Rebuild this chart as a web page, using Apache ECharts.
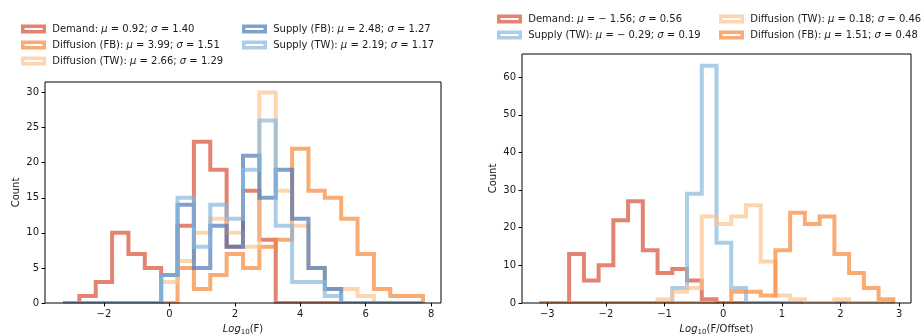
<!DOCTYPE html>
<html>
<head>
<meta charset="utf-8">
<script src="https://cdn.jsdelivr.net/npm/echarts@6/dist/echarts.min.js"></script>
<style>
  html, body { margin: 0; padding: 0; background: #fff; }
  #chart { width: 921px; height: 336px; }
</style>
</head>
<body>
<div id="chart"></div>
<script>
// ---- Left panel: histograms of log10(F) ----
const fBinEdges = [-3.25, -2.75, -2.25, -1.75, -1.25, -0.75, -0.25, 0.25, 0.75, 1.25, 1.75,
                   2.25, 2.75, 3.25, 3.75, 4.25, 4.75, 5.25, 5.75, 6.25, 6.75, 7.25, 7.75];
const fLabels = ['Demand', 'Diffusion (FB)', 'Diffusion (TW)', 'Supply (FB)', 'Supply (TW)'];
const fMeans  = [0.92, 3.99, 2.66, 2.48, 2.19];
const fStds   = [1.40, 1.51, 1.29, 1.27, 1.17];
const fDemand        = [0, 1, 3, 10, 7, 5, 4, 11, 23, 19, 8, 16, 9, 0, 0, 0, 0, 0, 0, 0, 0, 0];
const fDiffusionFB   = [0, 0, 0, 0, 0, 0, 0, 5, 2, 4, 7, 5, 8, 9, 22, 16, 15, 12, 7, 2, 1, 1];
const fDiffusionTW   = [0, 0, 0, 0, 0, 0, 3, 6, 10, 12, 10, 8, 30, 16, 11, 5, 2, 2, 1, 0, 0, 0];
const fSupplyFB      = [0, 0, 0, 0, 0, 0, 4, 14, 5, 11, 8, 21, 15, 19, 12, 5, 2, 0, 0, 0, 0, 0];
const fSupplyTW      = [0, 0, 0, 0, 0, 0, 4, 15, 8, 14, 12, 19, 26, 11, 3, 3, 1, 0, 0, 0, 0, 0];
const fXTicks = [-2, 0, 2, 4, 6, 8];
const fYTicks = [0, 5, 10, 15, 20, 25, 30];

// ---- Right panel: histograms of log10(F/Offset) ----
const oBinEdges = [-3.130, -2.879, -2.628, -2.376, -2.125, -1.874, -1.623, -1.371, -1.120,
                   -0.869, -0.618, -0.366, -0.115, 0.136, 0.388, 0.639, 0.890, 1.141, 1.393,
                   1.644, 1.895, 2.146, 2.398, 2.649, 2.900];
const oLabels = ['Demand', 'Supply (TW)', 'Diffusion (TW)', 'Diffusion (FB)'];
const oMeans  = [-1.56, -0.29, 0.18, 1.51];
const oStds   = [0.56, 0.19, 0.46, 0.48];
const oDemand      = [0, 0, 13, 6, 10, 22, 27, 14, 8, 9, 6, 1, 0, 0, 0, 0, 0, 0, 0, 0, 0, 0, 0, 0];
const oSupplyTW    = [0, 0, 0, 0, 0, 0, 0, 0, 0, 4, 29, 63, 16, 4, 0, 0, 0, 0, 0, 0, 0, 0, 0, 0];
const oDiffusionTW = [0, 0, 0, 0, 0, 0, 0, 0, 1, 3, 4, 23, 21, 23, 26, 11, 2, 1, 0, 0, 1, 0, 0, 0];
const oDiffusionFB = [0, 0, 0, 0, 0, 0, 0, 0, 0, 0, 0, 0, 0, 3, 3, 2, 14, 24, 21, 23, 13, 8, 4, 1];
const oXTicks = [-3, -2, -1, 0, 1, 2, 3];
const oYTicks = [0, 10, 20, 30, 40, 50, 60];

// ---- Styling ----
const COLORS = {
  'Demand':         'rgba(214,80,52,0.7)',
  'Diffusion (FB)': 'rgba(248,136,55,0.7)',
  'Diffusion (TW)': 'rgba(252,196,141,0.7)',
  'Supply (FB)':    'rgba(74,119,184,0.7)',
  'Supply (TW)':    'rgba(134,184,222,0.7)'
};
const FONT = 'DejaVu Sans';
const TEXT = '#1a1a1a';

const fmtNum = v => (v < 0 ? '\u2212 ' + Math.abs(v).toFixed(2) : v.toFixed(2));
const legendName = (lab, m, s) => lab + ': \u03bc = ' + fmtNum(m) + '; \u03c3 = ' + fmtNum(s);
const fmtTick = v => String(v).replace('-', '\u2212');

// Outline of a step histogram: baseline at the first edge, flat tops per bin, back down at the last edge.
function stepOutline(edges, counts) {
  const pts = [[edges[0], 0]];
  for (let i = 0; i < counts.length; i++) {
    pts.push([edges[i], counts[i]]);
    pts.push([edges[i + 1], counts[i]]);
  }
  pts.push([edges[edges.length - 1], 0]);
  return pts;
}

function histSeries(name, colorKey, edges, counts, axisIdx, z) {
  return {
    type: 'line',
    name: name,
    xAxisIndex: axisIdx,
    yAxisIndex: axisIdx,
    data: stepOutline(edges, counts),
    symbol: 'none',
    showSymbol: false,
    silent: true,
    animation: false,
    z: z,
    color: COLORS[colorKey],
    lineStyle: { width: 4, color: COLORS[colorKey], join: 'miter', cap: 'butt' }
  };
}

const fCounts = [fDemand, fDiffusionFB, fDiffusionTW, fSupplyFB, fSupplyTW];
const oCounts = [oDemand, oSupplyTW, oDiffusionTW, oDiffusionFB];
const fNames = fLabels.map((l, i) => legendName(l, fMeans[i], fStds[i]));
const oNames = oLabels.map((l, i) => legendName(l, oMeans[i], oStds[i]));

const series = [];
fLabels.forEach((l, i) => series.push(histSeries(fNames[i], l, fBinEdges, fCounts[i], 0, 2 + i)));
oLabels.forEach((l, i) => series.push(histSeries(oNames[i], l, oBinEdges, oCounts[i], 1, 2 + i)));

const legendRich = {
  it: { fontStyle: 'italic', fontFamily: FONT, fontSize: 10, color: TEXT },
  g: { width: 3 }
};
// Legend entries: outlined boxes in the series colour, as for step histograms.
function legendBlock(names, keys, left, top) {
  return {
    data: names.map((n, i) => ({
      name: n,
      icon: 'rect',
      itemStyle: { color: '#ffffff', borderColor: COLORS[keys[i]], borderWidth: 3.5 }
    })),
    orient: 'vertical',
    left: left,
    top: top,
    padding: 0,
    itemGap: 4,
    itemWidth: 21.5,
    itemHeight: 5.5,
    selectedMode: false,
    textStyle: { fontFamily: FONT, fontSize: 10, color: TEXT, lineHeight: 12, rich: legendRich },
    formatter: n => '{g|}' + n.replace('\u03bc', '{it|\u03bc}').replace('\u03c3', '{it|\u03c3}')
  };
}

const axisLabelStyle = { fontFamily: FONT, fontSize: 10, color: TEXT };
const nameRich = {
  it: { fontStyle: 'italic', fontFamily: FONT, fontSize: 10, color: TEXT },
  sub: { fontFamily: FONT, fontSize: 7, color: TEXT, padding: [7, 0, 0, 0] },
  n: { fontFamily: FONT, fontSize: 10, color: TEXT }
};

function xAxis(idx, min, max, ticks, label) {
  return {
    type: 'value', gridIndex: idx, min: min, max: max, z: 60,
    axisLine: { show: false, onZero: false },
    splitLine: { show: false },
    axisTick: { show: true, inside: false, length: 3.5, customValues: ticks, lineStyle: { color: '#000', width: 1 } },
    axisLabel: { customValues: ticks, margin: 6, formatter: fmtTick, ...axisLabelStyle },
    name: label, nameLocation: 'middle', nameGap: 19,
    nameTextStyle: { fontFamily: FONT, fontSize: 10, color: TEXT, rich: nameRich }
  };
}
function yAxis(idx, max, ticks) {
  return {
    type: 'value', gridIndex: idx, min: 0, max: max, z: 60,
    axisLine: { show: false, onZero: false },
    splitLine: { show: false },
    axisTick: { show: true, inside: false, length: 3.5, customValues: ticks, lineStyle: { color: '#000', width: 1 } },
    axisLabel: { customValues: ticks, margin: 6, formatter: fmtTick, ...axisLabelStyle },
    name: 'Count', nameLocation: 'middle', nameGap: 24, nameRotate: 90,
    nameTextStyle: { fontFamily: FONT, fontSize: 10, color: TEXT }
  };
}

const GRIDS = [
  { left: 45, top: 82, width: 396, height: 221 },
  { left: 522, top: 54, width: 389, height: 249 }
];

const option = {
  backgroundColor: '#ffffff',
  animation: false,
  grid: GRIDS.map(g => ({
    ...g, show: true, z: 60, containLabel: false, outerBoundsMode: 'none',
    borderColor: '#000', borderWidth: 1, backgroundColor: 'transparent'
  })),
  xAxis: [
    xAxis(0, -3.8, 8.3, fXTicks, '{it|Log}{sub|10}{n|(F)}'),
    xAxis(1, -3.4315, 3.2015, oXTicks, '{it|Log}{sub|10}{n|(F/Offset)}')
  ],
  yAxis: [
    yAxis(0, 31.5, fYTicks),
    yAxis(1, 66.15, oYTicks)
  ],
  legend: [
    legendBlock(fNames.slice(0, 3), fLabels.slice(0, 3), 21, 23),
    legendBlock(fNames.slice(3), fLabels.slice(3), 242, 23),
    legendBlock(oNames.slice(0, 2), oLabels.slice(0, 2), 497, 13),
    legendBlock(oNames.slice(2), oLabels.slice(2), 719, 13)
  ],
  // Keep the histogram baselines inside the plotting frame (trim the half-stroke below the bottom edge).
  graphic: GRIDS.map(g => ({
    type: 'rect', z: 50, silent: true,
    shape: { x: g.left - 3, y: g.top + g.height + 0.5, width: g.width + 6, height: 3 },
    style: { fill: '#ffffff' }
  })),
  series: series
};

const chart = echarts.init(document.getElementById('chart'), null, { renderer: 'canvas' });
chart.setOption(option);
</script>
</body>
</html>
